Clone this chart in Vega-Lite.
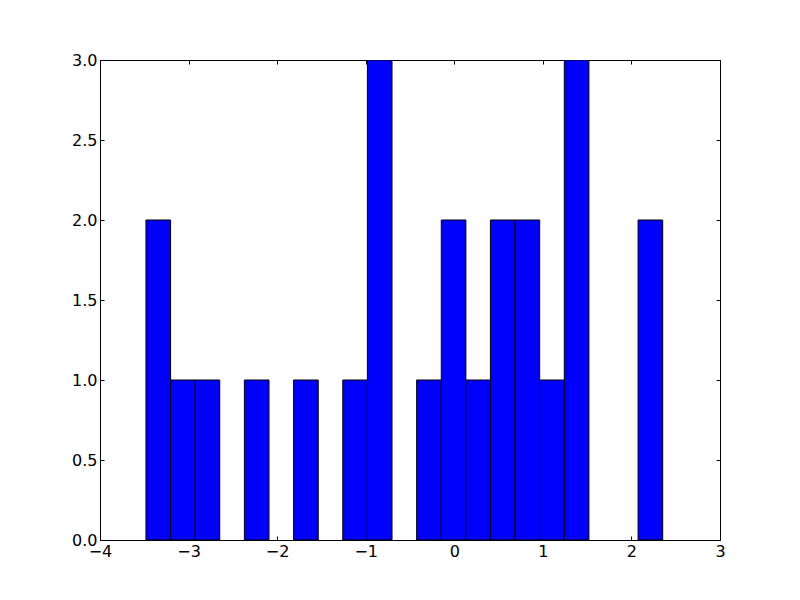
{
  "$schema": "https://vega.github.io/schema/vega-lite/v6.json",
  "autosize": {"type": "none"},
  "padding": {"left": 100, "top": 60, "right": 80, "bottom": 60},
  "width": 620,
  "height": 480,
  "background": "white",
  "config": {
    "view": {"stroke": "black", "strokeWidth": 1},
    "axis": {
      "grid": false,
      "domain": false,
      "tickColor": "black",
      "tickWidth": 1,
      "tickSize": -4,
      "labelFlush": false,
      "labelOverlap": false,
      "labelFont": "DejaVu Sans",
      "labelFontSize": 16,
      "labelColor": "black",
      "title": null
    }
  },
  "data": {
    "values": [
      {"x0": -3.481, "x1": -3.203, "count": 2},
      {"x0": -3.203, "x1": -2.925, "count": 1},
      {"x0": -2.925, "x1": -2.648, "count": 1},
      {"x0": -2.370, "x1": -2.092, "count": 1},
      {"x0": -1.814, "x1": -1.536, "count": 1},
      {"x0": -1.259, "x1": -0.981, "count": 1},
      {"x0": -0.981, "x1": -0.703, "count": 3},
      {"x0": -0.425, "x1": -0.147, "count": 1},
      {"x0": -0.147, "x1": 0.131, "count": 2},
      {"x0": 0.131, "x1": 0.408, "count": 1},
      {"x0": 0.408, "x1": 0.686, "count": 2},
      {"x0": 0.686, "x1": 0.964, "count": 2},
      {"x0": 0.964, "x1": 1.242, "count": 1},
      {"x0": 1.242, "x1": 1.520, "count": 3},
      {"x0": 2.075, "x1": 2.353, "count": 2}
    ]
  },
  "layer": [
    {
      "mark": {"type": "bar", "fill": "#0000ff", "stroke": "black", "strokeWidth": 1, "clip": true},
      "encoding": {
        "x": {
          "field": "x0", "type": "quantitative",
          "scale": {"domain": [-4, 3], "nice": false, "zero": false},
          "axis": {"orient": "bottom", "values": [-4, -3, -2, -1, 0, 1, 2, 3], "labelExpr": "replace(datum.label, '-', '−')", "labelPadding": 7}
        },
        "x2": {"field": "x1"},
        "y": {
          "field": "count", "type": "quantitative",
          "scale": {"domain": [0, 3], "nice": false},
          "axis": {"orient": "left", "values": [0, 0.5, 1, 1.5, 2, 2.5, 3], "format": ".1f", "labelPadding": 7}
        },
        "y2": {"datum": 0}
      }
    },
    {
      "mark": {"type": "bar", "opacity": 0},
      "encoding": {
        "x": {
          "field": "x0", "type": "quantitative",
          "axis": {"orient": "top", "values": [-4, -3, -2, -1, 0, 1, 2, 3], "labels": false}
        },
        "x2": {"field": "x1"},
        "y": {
          "field": "count", "type": "quantitative",
          "axis": {"orient": "right", "values": [0, 0.5, 1, 1.5, 2, 2.5, 3], "labels": false}
        },
        "y2": {"datum": 0}
      }
    }
  ]
}
